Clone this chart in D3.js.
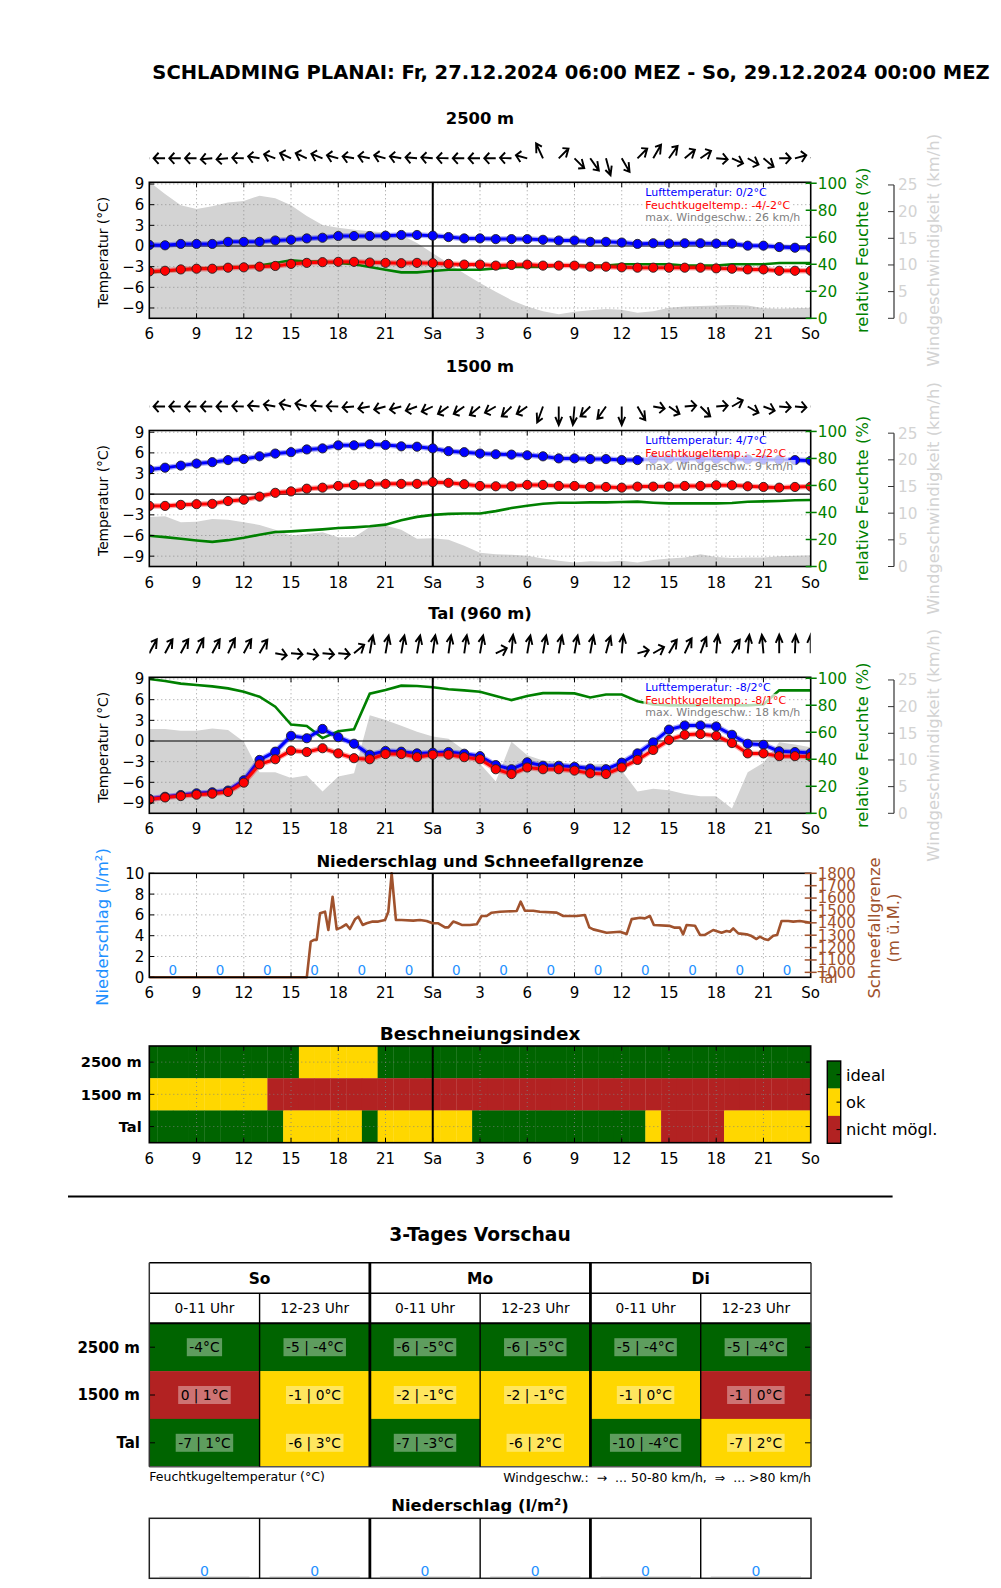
<!DOCTYPE html>
<html><head><meta charset="utf-8">
<script src="https://cdnjs.cloudflare.com/ajax/libs/d3/7.8.5/d3.min.js"></script>
<style>
body{margin:0;background:#fff}
svg{display:block;font-family:"DejaVu Sans",sans-serif}
</style></head><body>
<svg id="chart" width="1001" height="1588"></svg>
<script>
// ---------------- DATA ----------------
const mainTitle = "SCHLADMING PLANAI: Fr, 27.12.2024 06:00 MEZ - So, 29.12.2024 00:00 MEZ";
const xTickHours = [0,3,6,9,12,15,18,21,24,27,30,33,36,39,42];
const xTickLabels = ["6","9","12","15","18","21","Sa","3","6","9","12","15","18","21","So"];
const saHour = 18;
const tempTicks = [-9,-6,-3,0,3,6,9];
const humTicks = [0,20,40,60,80,100];
const windTicks = [0,5,10,15,20,25];

// 2500 m (hourly, Fr 06:00 .. So 00:00)
const temp2500 = [0.15,0.1,0.3,0.3,0.3,0.6,0.6,0.6,0.8,0.9,1.1,1.2,1.45,1.45,1.45,1.5,1.6,1.6,1.5,1.3,1.1,1.1,1.0,1.0,1.0,0.9,0.8,0.8,0.6,0.6,0.5,0.3,0.4,0.35,0.4,0.4,0.35,0.35,0.05,0.05,-0.15,-0.25,-0.25];
const wet2500 = [-3.7,-3.6,-3.4,-3.3,-3.3,-3.15,-3.1,-3.0,-2.9,-2.6,-2.45,-2.35,-2.3,-2.3,-2.4,-2.45,-2.5,-2.45,-2.5,-2.6,-2.7,-2.7,-2.85,-2.75,-2.7,-2.85,-2.85,-2.85,-3.0,-3.0,-3.1,-3.15,-3.15,-3.15,-3.15,-3.15,-3.25,-3.3,-3.4,-3.4,-3.6,-3.6,-3.6];
const hum2500 = [34,35,36,37,37,38,38,39,41,43,42,42,41,40,38,36,34,34,35,36,36,36,37,38,38,38,39,39,39,39,40,40,40,40,39,39,39,40,40,40,41,41,41];
const wind2500 = [25.6,23.3,21.2,20.5,21,21.7,22,23,22.5,21.2,19.2,17.5,17,16.6,16.3,16.1,15.6,14.1,12.2,10.3,8.4,6.6,5.0,3.4,2.2,1.3,0.75,1.25,1.5,1.75,1.6,1.05,1.3,2.0,2.2,2.3,2.4,2.5,2.4,1.9,1.8,1.9,2.0];
const dir2500 = [180,180,180,180,185,185,178,170,160,155,155,158,165,170,168,165,170,175,175,178,180,180,180,178,165,115,45,-45,-55,-75,-60,45,60,55,40,35,-5,-25,-30,-40,0,15,30];

// 1500 m
const temp1500 = [3.6,3.85,4.15,4.45,4.65,4.95,5.1,5.5,5.9,6.1,6.5,6.65,7.1,7.1,7.25,7.15,6.95,6.9,6.65,6.25,6.1,5.9,5.8,5.75,5.65,5.5,5.2,5.2,5.1,5.1,4.95,4.95,5.1,5.1,5.1,5.1,5.1,5.1,5.05,5.0,5.0,4.95,4.85];
const wet1500 = [-1.7,-1.7,-1.55,-1.45,-1.4,-1.0,-0.8,-0.35,0.2,0.4,0.8,0.95,1.2,1.35,1.45,1.5,1.5,1.5,1.75,1.65,1.45,1.2,1.15,1.15,1.35,1.35,1.2,1.2,1.05,1.05,0.95,1.1,1.1,1.1,1.2,1.2,1.3,1.3,1.15,1.05,0.95,1.05,1.1];
const hum1500 = [22.75,21.75,20.5,19.25,18.25,19.5,21.25,23.5,25.5,26,26.75,27.5,28.5,29,29.75,31,34.25,36.75,38.25,39,39.25,39.25,41,43.25,45,46.5,47.25,47.25,47.5,47.5,47.75,48,47.25,46.75,46.75,46.75,46.75,47,48,48.25,48.5,49,49.25];
const wind1500 = [9.3,9.4,8.3,8.4,8.9,8.75,8.3,7.8,6.9,5.8,6.1,6.4,5.5,5.5,7.4,7.7,6.9,5.2,5.3,5.0,3.9,2.6,2.3,2.2,2.0,1.5,1.1,0.76,1.0,0.9,1.1,0.76,1.2,1.5,1.7,2.3,1.8,1.6,1.7,1.7,1.9,2.0,2.1];
const dir1500 = [180,180,180,180,180,180,178,175,170,165,165,175,178,185,190,195,195,200,205,215,215,220,210,225,215,250,270,265,225,235,270,-60,-10,-35,5,-45,5,30,-30,-20,-5,-5,0];

// Tal (960 m)
const tempTal = [-8.4,-8.1,-7.85,-7.6,-7.45,-7.2,-5.7,-2.75,-1.55,0.75,0.4,1.75,0.55,-0.4,-2.0,-1.45,-1.55,-1.8,-1.7,-1.6,-1.85,-2.2,-3.5,-4.1,-3.1,-3.6,-3.6,-3.75,-4.0,-4.1,-3.15,-1.8,-0.2,1.65,2.25,2.25,2.1,0.9,-0.4,-0.55,-1.5,-1.6,-1.75];
const wetTal = [-8.5,-8.2,-8.0,-7.8,-7.65,-7.4,-6.05,-3.4,-2.65,-1.4,-1.6,-1.05,-1.8,-2.5,-2.65,-1.9,-1.9,-2.35,-2.0,-2.0,-2.35,-2.65,-4.1,-4.8,-3.85,-4.1,-4.1,-4.3,-4.7,-4.8,-3.85,-2.75,-1.3,0.15,0.9,1.0,0.75,-0.3,-1.8,-1.8,-2.2,-2.2,-2.3];
const humTal = [99.5,98,96,95,94,92.5,90,86.3,78.9,65.7,64.7,55.7,60.7,62.2,88.6,91.3,94.5,94.3,93.3,91.8,91,90,86.8,83.8,86.8,89,89,88.8,85.8,88,88,83,80.6,80,80,80,80,80,80,80.6,91,91,91];
const windTal = [15.8,15.8,15.5,15.5,15.9,15.6,13.4,7.7,7.7,6.6,7.1,4.1,6.9,7.5,18.4,17.5,16.4,15.3,14.4,14.0,11.8,9.3,6.0,13.4,10.9,9.9,9.6,9.1,9.1,9.3,8.0,4.1,4.6,4.3,3.6,3.2,3.2,0.9,7.7,9.5,13.3,12.9,12.4];
const dirTal = [62,62,62,65,62,65,62,60,-10,-5,-10,-5,-5,40,80,80,80,80,82,82,82,80,25,85,80,80,80,80,80,75,85,15,30,60,65,70,85,60,85,95,90,88,90];

// Niederschlag (3-hourly) and Schneefallgrenze
const precipHours = [1.5,4.5,7.5,10.5,13.5,16.5,19.5,22.5,25.5,28.5,31.5,34.5,37.5,40.5];
const precip3h = [0,0,0,0,0,0,0,0,0,0,0,0,0,0];
const snowHours = [0,10.0,10.25,10.46,10.63,10.84,11.16,11.37,11.64,11.9,12.2,12.5,12.74,13.06,13.27,13.55,13.8,14.18,14.54,14.97,15.18,15.39,15.66,16.02,16.76,17.19,17.61,17.99,18.35,18.78,18.99,19.3,19.52,19.84,20.36,20.79,21.1,21.42,21.74,22.27,23.33,23.58,23.85,24.38,24.8,25.87,26.29,27.14,27.66,27.94,28.19,29.04,29.89,30.31,30.63,31.16,31.47,31.79,32.04,33.06,33.37,33.69,33.9,34.12,34.65,34.97,35.28,35.81,36.34,36.66,36.87,37.08,37.4,37.93,38.25,38.56,38.77,39.09,39.3,39.62,39.87,40.15,40.57,40.89,41.31,42];
const snowLevel = [960,960,1248,1262,1262,1477,1490,1342,1611,1347,1363,1388,1350,1428,1450,1383,1396,1410,1410,1423,1490,1800,1423,1423,1418,1423,1415,1396,1396,1363,1363,1410,1401,1383,1383,1388,1455,1455,1482,1490,1495,1571,1498,1498,1490,1482,1455,1455,1463,1363,1347,1320,1328,1309,1430,1441,1436,1455,1383,1375,1361,1361,1307,1383,1377,1302,1302,1342,1320,1334,1328,1355,1315,1307,1293,1269,1288,1267,1262,1296,1302,1415,1415,1410,1415,1401];
const precipTicks = [0,2,4,6,8,10];
const snowTicks = [1000,1100,1200,1300,1400,1500,1600,1700,1800];

// Beschneiungsindex (0 = ideal, 1 = ok, 2 = nicht möglich)
const indexRows = ["2500 m","1500 m","Tal"];
const idx2500 = [0,0,0,0,0,0,0,0,0,0,1,1,1,1,1,0,0,0,0,0,0,0,0,0,0,0,0,0,0,0,0,0,0,0,0,0,0,0,0,0,0,0,0];
const idx1500 = [1,1,1,1,1,1,1,1,2,2,2,2,2,2,2,2,2,2,2,2,2,2,2,2,2,2,2,2,2,2,2,2,2,2,2,2,2,2,2,2,2,2,2];
const idxTal  = [0,0,0,0,0,0,0,0,0,1,1,1,1,1,0,1,1,1,1,1,1,0,0,0,0,0,0,0,0,0,0,0,1,2,2,2,2,1,1,1,1,1,1];
const indexLabels = ["ideal","ok","nicht mögl."];
const indexColors = ["#006400","#ffd700","#b22222"];

// 3-Tages Vorschau
const days = ["So","Mo","Di"];
const halves = ["0-11 Uhr","12-23 Uhr"];
const forecastRows = ["2500 m","1500 m","Tal"];
const fcText2500 = ["-4°C","-5 | -4°C","-6 | -5°C","-6 | -5°C","-5 | -4°C","-5 | -4°C"];
const fcText1500 = ["0 | 1°C","-1 | 0°C","-2 | -1°C","-2 | -1°C","-1 | 0°C","-1 | 0°C"];
const fcTextTal  = ["-7 | 1°C","-6 | 3°C","-7 | -3°C","-6 | 2°C","-10 | -4°C","-7 | 2°C"];
const fcIdx2500 = [0,0,0,0,0,0];
const fcIdx1500 = [2,1,1,1,1,2];
const fcIdxTal  = [0,1,0,1,0,1];
const fcPrecip = [0,0,0,0,0,0];

// ---------------- DRAWING ----------------
const svg = d3.select("#chart");
svg.append("rect").attr("width",1001).attr("height",1588).attr("fill","#fff");
const X0 = 149.3, X1 = 810.7, PH = 136;
const x = d3.scaleLinear().domain([0,42]).range([X0,X1]);
const fmtT = v => v < 0 ? "\u2212" + Math.abs(v) : String(v);
const GRID = {stroke:"#808080", w:0.8, dash:"1,3"};
const LX = 11.5, LY = 18.5;
const TICKFS = 15;

svg.append("text").attr("x",571).attr("y",79).attr("text-anchor","middle")
  .attr("font-size",19.5).attr("font-weight","bold").text(mainTitle);

// arrow drawn in an anisotropic unit space (like a quiver in a non-square axes)
function arrowPath(x0,y0,vis){
  const v = vis*Math.PI/180;
  const a = Math.atan2(Math.sin(v)/LY, Math.cos(v)/LX);
  const c = Math.cos(a), s = Math.sin(a);
  const P = (u,w) => [x0 + u*LX, y0 - w*LY];
  const tip = P(c,s);
  const bu = c*0.56, bw = s*0.56;
  const h1 = P(bu - s*0.3, bw + c*0.3);
  const h2 = P(bu + s*0.3, bw - c*0.3);
  return `M${x0},${y0}L${tip}M${h1}L${tip}L${h2}`;
}

function xAxis(g, top, bot, labels){
  g.selectAll(null).data(xTickHours.slice(1,-1)).join("line")
    .attr("x1",d=>x(d)).attr("x2",d=>x(d)).attr("y1",bot).attr("y2",bot-5).attr("stroke","#000");
  g.selectAll(null).data(xTickHours.slice(1,-1)).join("line")
    .attr("x1",d=>x(d)).attr("x2",d=>x(d)).attr("y1",top).attr("y2",top+5).attr("stroke","#000");
  if(labels){
    g.selectAll(null).data(xTickHours).join("text")
      .attr("x",d=>x(d)).attr("y",bot+21).attr("text-anchor","middle").attr("font-size",TICKFS)
      .text((d,i)=>xTickLabels[i]);
  }
}
function xGrid(g, top, bot){
  g.selectAll(null).data(xTickHours.slice(1,-1)).join("line")
    .attr("x1",d=>x(d)).attr("x2",d=>x(d)).attr("y1",top).attr("y2",bot)
    .attr("stroke",GRID.stroke).attr("stroke-width",GRID.w).attr("stroke-dasharray",GRID.dash);
}

const panels = [
  {title:"2500 m", top:182.3, temp:temp2500, wet:wet2500, hum:hum2500, wind:wind2500, dir:dir2500},
  {title:"1500 m", top:430.5, temp:temp1500, wet:wet1500, hum:hum1500, wind:wind1500, dir:dir1500},
  {title:"Tal (960 m)", top:677.3, temp:tempTal, wet:wetTal, hum:humTal, wind:windTal, dir:dirTal}
];

panels.forEach((p,pi)=>{
  const top = p.top, bot = top + PH;
  const yT = d3.scaleLinear().domain([-10.5,9.25]).range([bot,top]);
  const yH = d3.scaleLinear().domain([0,100.7]).range([bot,top]);
  const yW = d3.scaleLinear().domain([0,25.5]).range([bot,top]);
  const g = svg.append("g");
  const cid = "clipP"+pi;
  svg.append("clipPath").attr("id",cid).append("rect").attr("x",X0).attr("y",top).attr("width",X1-X0).attr("height",PH);
  const cg = g.append("g").attr("clip-path",`url(#${cid})`);
  cg.append("path").datum(p.wind).attr("fill","#d3d3d3")
    .attr("d", d3.area().x((d,i)=>x(i)).y0(bot).y1(d=>yW(d)));
  xGrid(cg, top, bot);
  cg.selectAll(null).data(tempTicks.filter(v=>v!==0)).join("line")
    .attr("x1",X0).attr("x2",X1).attr("y1",d=>yT(d)).attr("y2",d=>yT(d))
    .attr("stroke",GRID.stroke).attr("stroke-width",GRID.w).attr("stroke-dasharray",GRID.dash);
  cg.append("line").attr("x1",X0).attr("x2",X1).attr("y1",yT(0)).attr("y2",yT(0)).attr("stroke","#000").attr("stroke-width",1.2);
  cg.append("path").datum(p.hum).attr("fill","none").attr("stroke","#008000").attr("stroke-width",2.6)
    .attr("d", d3.line().x((d,i)=>x(i)).y(d=>yH(d)));
  cg.append("line").attr("x1",x(saHour)).attr("x2",x(saHour)).attr("y1",top).attr("y2",bot).attr("stroke","#000").attr("stroke-width",2);
  [[p.temp,"#0000ff"],[p.wet,"#ff0000"]].forEach(([arr,col])=>{
    const ln = d3.line().x((d,i)=>x(i)).y(d=>yT(d));
    cg.append("path").datum(arr).attr("fill","none").attr("stroke",col).attr("stroke-width",5.5).attr("stroke-opacity",0.35).attr("d",ln);
    cg.append("path").datum(arr).attr("fill","none").attr("stroke",col).attr("stroke-width",3).attr("d",ln);
    cg.selectAll(null).data(arr).join("circle").attr("cx",(d,i)=>x(i)).attr("cy",d=>yT(d)).attr("r",4.6)
      .attr("fill",col).attr("stroke","#222").attr("stroke-width",0.9);
  });
  const rnd = v => String(Math.round(v)).replace("-0","0");
  const leg = [
    [`Lufttemperatur: ${rnd(d3.min(p.temp))}/${rnd(d3.max(p.temp))}°C`,"#0000ff"],
    [`Feuchtkugeltemp.: ${rnd(d3.min(p.wet))}/${rnd(d3.max(p.wet))}°C`,"#ff0000"],
    [`max. Windgeschw.: ${rnd(d3.max(p.wind))} km/h`,"#808080"]
  ];
  const lg = g.append("g");
  const boxes = lg.selectAll("rect").data(leg).join("rect").attr("fill","#fff").attr("fill-opacity",0.72);
  const lt = lg.selectAll("text").data(leg).join("text").attr("x",645.3).attr("y",(d,i)=>top+13.3+i*12.9)
    .attr("font-size",11).attr("fill",d=>d[1]).text(d=>d[0]);
  lt.each(function(d,i){
    const w = this.getComputedTextLength();
    d3.select(boxes.nodes()[i]).attr("x",643.5).attr("width",w+4).attr("y",top+3.6+i*12.9).attr("height",12.9);
  });
  g.append("rect").attr("x",X0).attr("y",top).attr("width",X1-X0).attr("height",PH).attr("fill","none").attr("stroke","#000").attr("stroke-width",1.6);
  xAxis(g, top, bot, true);
  g.selectAll(null).data(tempTicks).join("line").attr("x1",X0).attr("x2",X0+5).attr("y1",d=>yT(d)).attr("y2",d=>yT(d)).attr("stroke","#000");
  g.selectAll(null).data(tempTicks).join("text").attr("x",X0-5).attr("y",d=>yT(d)).attr("dy","0.36em")
    .attr("text-anchor","end").attr("font-size",TICKFS).text(fmtT);
  g.append("text").attr("transform",`translate(103,${(top+bot)/2+2}) rotate(-90)`).attr("text-anchor","middle")
    .attr("dy","0.35em").attr("font-size",13.8).text("Temperatur (°C)");
  g.selectAll(null).data(humTicks).join("line").attr("x1",X1-5).attr("x2",X1+6).attr("y1",d=>yH(d)).attr("y2",d=>yH(d)).attr("stroke","#008000").attr("stroke-width",1.5);
  g.selectAll(null).data(humTicks).join("text").attr("x",X1+7).attr("y",d=>yH(d)).attr("dy","0.36em")
    .attr("font-size",15.3).attr("fill","#008000").text(d=>d);
  g.append("text").attr("transform",`translate(862,${(top+bot)/2}) rotate(-90)`).attr("text-anchor","middle")
    .attr("dy","0.35em").attr("font-size",16.4).attr("fill","#008000").text("relative Feuchte (%)");
  const WX = 894;
  g.append("line").attr("x1",WX).attr("x2",WX).attr("y1",yW(0)).attr("y2",yW(25)).attr("stroke","#333").attr("stroke-width",1.2);
  g.selectAll(null).data(windTicks).join("line").attr("x1",WX-6).attr("x2",WX).attr("y1",d=>yW(d)).attr("y2",d=>yW(d)).attr("stroke","#333");
  g.selectAll(null).data(windTicks).join("text").attr("x",WX+4).attr("y",d=>yW(d)).attr("dy","0.36em")
    .attr("font-size",15.3).attr("fill","#d3d3d3").text(d=>d);
  g.append("text").attr("transform",`translate(933,${(top+bot)/2}) rotate(-90)`).attr("text-anchor","middle")
    .attr("dy","0.35em").attr("font-size",16.4).attr("fill","#d3d3d3").text("Windgeschwindigkeit (km/h)");
  g.append("text").attr("x",480).attr("y",top-58.5).attr("text-anchor","middle").attr("font-size",16.4)
    .attr("font-weight","bold").text(p.title);
  const aid = "clipA"+pi;
  svg.append("clipPath").attr("id",aid).append("rect").attr("x",X0).attr("y",top-60).attr("width",X1-X0).attr("height",58);
  g.append("g").attr("clip-path",`url(#${aid})`).selectAll("path").data(p.dir).join("path")
    .attr("d",(d,i)=>arrowPath(x(i), top-24, d)).attr("fill","none").attr("stroke","#000").attr("stroke-width",1.9);
});

// -------- Niederschlag und Schneefallgrenze --------
{
  const top = 873.3, bot = 977.3;
  const yP = d3.scaleLinear().domain([0,10]).range([bot,top]);
  const yS = d3.scaleLinear().domain([960,1800]).range([bot,top]);
  const g = svg.append("g");
  xGrid(g, top, bot);
  g.selectAll(null).data(precipTicks.slice(1,-1)).join("line").attr("x1",X0).attr("x2",X1)
    .attr("y1",d=>yP(d)).attr("y2",d=>yP(d)).attr("stroke",GRID.stroke).attr("stroke-width",GRID.w).attr("stroke-dasharray",GRID.dash);
  g.selectAll(null).data(precip3h).join("rect").attr("x",(d,i)=>x(precipHours[i]-1.5)).attr("width",x(3)-x(0))
    .attr("y",d=>yP(d)).attr("height",d=>yP(0)-yP(d)).attr("fill","#1e90ff");
  g.selectAll(null).data(precip3h).join("text").attr("x",(d,i)=>x(precipHours[i])).attr("y",bot-2.5)
    .attr("text-anchor","middle").attr("font-size",13.5).attr("fill","#1e90ff").text(d=>d);
  g.append("line").attr("x1",x(saHour)).attr("x2",x(saHour)).attr("y1",top).attr("y2",bot).attr("stroke","#000").attr("stroke-width",2);
  g.append("path").datum(snowLevel).attr("fill","none").attr("stroke","#a0522d").attr("stroke-width",2.6).attr("stroke-linejoin","round")
    .attr("d", d3.line().x((d,i)=>x(snowHours[i])).y(d=>yS(d)));
  g.append("rect").attr("x",X0).attr("y",top).attr("width",X1-X0).attr("height",bot-top).attr("fill","none").attr("stroke","#000").attr("stroke-width",1.6);
  xAxis(g, top, bot, true);
  g.selectAll(null).data(precipTicks).join("line").attr("x1",X0).attr("x2",X0+5).attr("y1",d=>yP(d)).attr("y2",d=>yP(d)).attr("stroke","#000");
  g.selectAll(null).data(precipTicks).join("text").attr("x",X0-5).attr("y",d=>yP(d)).attr("dy","0.36em")
    .attr("text-anchor","end").attr("font-size",TICKFS).text(d=>d);
  g.append("text").attr("transform",`translate(102,927) rotate(-90)`).attr("text-anchor","middle").attr("dy","0.35em")
    .attr("font-size",16.4).attr("fill","#1e90ff").text("Niederschlag (l/m²)");
  g.selectAll(null).data(snowTicks).join("line").attr("x1",X1-6).attr("x2",X1+6).attr("y1",d=>yS(d)).attr("y2",d=>yS(d)).attr("stroke","#a0522d").attr("stroke-width",1.5);
  g.selectAll(null).data(snowTicks).join("text").attr("x",X1+7).attr("y",d=>yS(d)).attr("dy","0.36em")
    .attr("font-size",15).attr("fill","#a0522d").text(d=>d);
  g.append("text").attr("x",X1+7).attr("y",yS(960)).attr("dy","0.36em").attr("font-size",15).attr("fill","#a0522d").text("Tal");
  g.append("text").attr("transform",`translate(874,928) rotate(-90)`).attr("text-anchor","middle").attr("dy","0.35em")
    .attr("font-size",16.4).attr("fill","#a0522d").text("Schneefallgrenze");
  g.append("text").attr("transform",`translate(893,928) rotate(-90)`).attr("text-anchor","middle").attr("dy","0.35em")
    .attr("font-size",16.4).attr("fill","#a0522d").text("(m ü.M.)");
  g.append("text").attr("x",480).attr("y",866.7).attr("text-anchor","middle").attr("font-size",16.4)
    .attr("font-weight","bold").text("Niederschlag und Schneefallgrenze");
}

// -------- Beschneiungsindex --------
{
  const top = 1046, RH = 32.23, bot = top + 3*RH;
  const g = svg.append("g");
  [idx2500, idx1500, idxTal].forEach((row,r)=>{
    g.selectAll(null).data(row).join("rect")
      .attr("x",(d,i)=>x(Math.max(0,i-0.5))).attr("width",(d,i)=>x(Math.min(42,i+0.5))-x(Math.max(0,i-0.5))+0.3)
      .attr("y",top+r*RH).attr("height",RH+0.3).attr("fill",d=>indexColors[d]);
  });
  xGrid(g, top, bot);
  g.selectAll(null).data([0,1,2]).join("line").attr("x1",X0).attr("x2",X1).attr("y1",d=>top+(d+0.5)*RH).attr("y2",d=>top+(d+0.5)*RH)
    .attr("stroke","#808080").attr("stroke-width",GRID.w).attr("stroke-dasharray",GRID.dash);
  g.append("line").attr("x1",x(saHour)).attr("x2",x(saHour)).attr("y1",top).attr("y2",bot).attr("stroke","#000").attr("stroke-width",2);
  g.append("rect").attr("x",X0).attr("y",top).attr("width",X1-X0).attr("height",bot-top).attr("fill","none").attr("stroke","#000").attr("stroke-width",1.6);
  xAxis(g, top, bot, true);
  g.selectAll(null).data([0,1,2]).join("line").attr("x1",X0).attr("x2",X0+5).attr("y1",d=>top+(d+0.5)*RH).attr("y2",d=>top+(d+0.5)*RH).attr("stroke","#000");
  g.selectAll(null).data([0,1,2]).join("line").attr("x1",X1-5).attr("x2",X1).attr("y1",d=>top+(d+0.5)*RH).attr("y2",d=>top+(d+0.5)*RH).attr("stroke","#000");
  g.selectAll(null).data(indexRows).join("text").attr("x",141.7).attr("y",(d,i)=>top+(i+0.5)*RH).attr("dy","0.36em")
    .attr("text-anchor","end").attr("font-size",14.6).attr("font-weight","bold").text(d=>d);
  g.append("text").attr("x",480).attr("y",1040).attr("text-anchor","middle").attr("font-size",18.4)
    .attr("font-weight","bold").text("Beschneiungsindex");
  const cbT = 1061, cbH = 82.3/3;
  g.selectAll(null).data(indexColors).join("rect").attr("x",827.3).attr("width",13.4).attr("y",(d,i)=>cbT+i*cbH).attr("height",cbH+0.3).attr("fill",d=>d);
  g.append("rect").attr("x",827.3).attr("width",13.4).attr("y",cbT).attr("height",3*cbH).attr("fill","none").attr("stroke","#000").attr("stroke-width",1.4);
  g.selectAll(null).data(indexLabels).join("line").attr("x1",836.5).attr("x2",840.7).attr("y1",(d,i)=>cbT+(i+0.5)*cbH).attr("y2",(d,i)=>cbT+(i+0.5)*cbH).attr("stroke","#000");
  g.selectAll(null).data(indexLabels).join("text").attr("x",846).attr("y",(d,i)=>cbT+(i+0.5)*cbH).attr("dy","0.36em")
    .attr("font-size",16.3).text(d=>d);
}

svg.append("line").attr("x1",68).attr("x2",892.6).attr("y1",1196.6).attr("y2",1196.6).attr("stroke","#000").attr("stroke-width",2);

// -------- 3-Tages Vorschau --------
{
  const g = svg.append("g");
  const tx = d3.scaleLinear().domain([0,6]).range([149.3,811]);
  const T0 = 1262.7, T1 = 1293.3, T2 = 1323.3, RH = 47.8, TB = T2 + 3*RH;
  g.append("text").attr("x",480).attr("y",1241).attr("text-anchor","middle").attr("font-size",18.7)
    .attr("font-weight","bold").text("3-Tages Vorschau");
  const texts = [fcText2500, fcText1500, fcTextTal];
  const cls = [fcIdx2500, fcIdx1500, fcIdxTal];
  cls.forEach((row,r)=>{
    g.selectAll(null).data(row).join("rect").attr("x",(d,i)=>tx(i)).attr("width",tx(1)-tx(0)+0.3)
      .attr("y",T2+r*RH).attr("height",RH+0.3).attr("fill",d=>indexColors[d]);
  });
  texts.forEach((row,r)=>{
    row.forEach((t,c)=>{
      const cx = (tx(c)+tx(c+1))/2, cy = T2+(r+0.5)*RH;
      const bg = g.append("rect").attr("fill","#fff").attr("fill-opacity",0.37);
      const te = g.append("text").attr("x",cx).attr("y",cy).attr("dy","0.36em").attr("text-anchor","middle").attr("font-size",13.8).text(t);
      const w = te.node().getComputedTextLength();
      bg.attr("x",cx-w/2-2.5).attr("width",w+5).attr("y",cy-9).attr("height",18);
    });
  });
  g.selectAll(null).data(days).join("text").attr("x",(d,i)=>(tx(2*i)+tx(2*i+2))/2).attr("y",(T0+T1)/2).attr("dy","0.36em")
    .attr("text-anchor","middle").attr("font-size",15.5).attr("font-weight","bold").text(d=>d);
  g.selectAll(null).data(d3.range(6)).join("text").attr("x",d=>(tx(d)+tx(d+1))/2).attr("y",(T1+T2)/2).attr("dy","0.36em")
    .attr("text-anchor","middle").attr("font-size",13.75).text(d=>halves[d%2]);
  g.selectAll(null).data(forecastRows).join("text").attr("x",140).attr("y",(d,i)=>T2+(i+0.5)*RH).attr("dy","0.36em")
    .attr("text-anchor","end").attr("font-size",15).attr("font-weight","bold").text(d=>d);
  g.selectAll(null).data(forecastRows).join("line").attr("x1",149.3).attr("x2",155).attr("y1",(d,i)=>T2+(i+0.5)*RH).attr("y2",(d,i)=>T2+(i+0.5)*RH).attr("stroke","#000");
  g.selectAll(null).data(forecastRows).join("line").attr("x1",805).attr("x2",811).attr("y1",(d,i)=>T2+(i+0.5)*RH).attr("y2",(d,i)=>T2+(i+0.5)*RH).attr("stroke","#000");
  [T0,T1].forEach(yy=>g.append("line").attr("x1",tx(0)).attr("x2",tx(6)).attr("y1",yy).attr("y2",yy).attr("stroke","#000").attr("stroke-width",1.5));
  g.append("line").attr("x1",tx(0)).attr("x2",tx(6)).attr("y1",T2).attr("y2",T2).attr("stroke","#000").attr("stroke-width",2);
  g.append("line").attr("x1",tx(0)).attr("x2",tx(6)).attr("y1",TB).attr("y2",TB).attr("stroke","#555").attr("stroke-width",1.5);
  [0,6].forEach(c=>g.append("line").attr("x1",tx(c)).attr("x2",tx(c)).attr("y1",T0).attr("y2",TB).attr("stroke","#333").attr("stroke-width",1.5));
  [1,3,5].forEach(c=>g.append("line").attr("x1",tx(c)).attr("x2",tx(c)).attr("y1",T1).attr("y2",TB).attr("stroke","#000").attr("stroke-width",1.4));
  [2,4].forEach(c=>g.append("line").attr("x1",tx(c)).attr("x2",tx(c)).attr("y1",T0).attr("y2",TB).attr("stroke","#000").attr("stroke-width",2.8));
  g.append("text").attr("x",149.3).attr("y",1481).attr("font-size",12.5).text("Feuchtkugeltemperatur (°C)");
  g.append("text").attr("x",811).attr("y",1482).attr("text-anchor","end").attr("font-size",12.5).style("white-space","pre")
    .text("Windgeschw.:  \u2192  ... 50-80 km/h,  \u21D2  ... >80 km/h");
  g.append("text").attr("x",480).attr("y",1511).attr("text-anchor","middle").attr("font-size",16.4)
    .attr("font-weight","bold").text("Niederschlag (l/m²)");
  const P0 = 1518.3, P1 = 1578.3;
  const yB = d3.scaleLinear().domain([0,10]).range([P1-1,P0]);
  g.selectAll(null).data(fcPrecip).join("rect").attr("x",(d,i)=>tx(i)+10).attr("width",tx(1)-tx(0)-20)
    .attr("y",d=>yB(d)-0.8).attr("height",d=>yB(0)-yB(d)+0.8).attr("fill","#c8c8c8");
  g.selectAll(null).data(fcPrecip).join("text").attr("x",(d,i)=>(tx(i)+tx(i+1))/2).attr("y",1575.5)
    .attr("text-anchor","middle").attr("font-size",14).attr("fill","#1e90ff").text(d=>d);
  g.append("rect").attr("x",tx(0)).attr("y",P0).attr("width",tx(6)-tx(0)).attr("height",P1-P0).attr("fill","none").attr("stroke","#222").attr("stroke-width",1.5);
  [1,3,5].forEach(c=>g.append("line").attr("x1",tx(c)).attr("x2",tx(c)).attr("y1",P0).attr("y2",P1).attr("stroke","#000").attr("stroke-width",1.4));
  [2,4].forEach(c=>g.append("line").attr("x1",tx(c)).attr("x2",tx(c)).attr("y1",P0).attr("y2",P1).attr("stroke","#000").attr("stroke-width",2.8));
}
</script></body></html>
